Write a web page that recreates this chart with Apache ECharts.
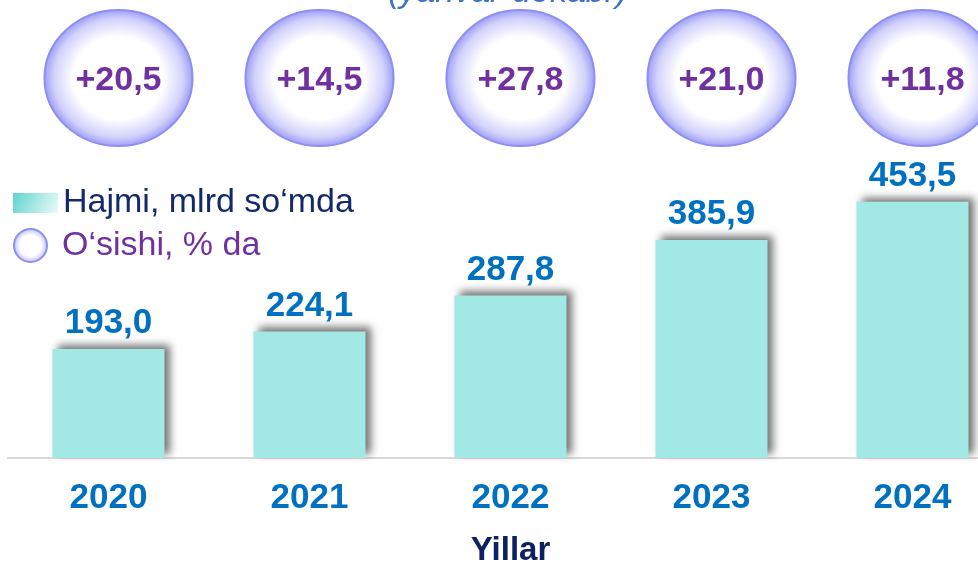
<!DOCTYPE html>
<html>
<head>
<meta charset="utf-8">
<title>Hajmi va o‘sishi</title>
<script src="https://cdn.jsdelivr.net/npm/echarts@6/dist/echarts.min.js"></script>
<style>
  html, body { margin: 0; padding: 0; background: #fff; }
  #chart { width: 978px; height: 567px; }
</style>
</head>
<body>
<div id="chart"></div>
<script>
// yillar va qiymatlar
const years = ['2020', '2021', '2022', '2023', '2024'];
const volume = [193.0, 224.1, 287.8, 385.9, 453.5];   // mlrd so'm
const growth = [20.5, 14.5, 27.8, 21.0, 11.8];        // % da
const growthRow = ['O‘sishi'];

const FONT = '"Liberation Sans", Arial, sans-serif';
const fmt = v => v.toFixed(1).replace('.', ',');

let myChart = echarts.init(document.getElementById('chart'));

let option = {
    animation: false,
    title: {
        text: '(yanvar-dekabr)',
        left: 383,
        top: -29,
        textStyle: {
            fontFamily: FONT,
            fontSize: 34,
            fontStyle: 'italic',
            fontWeight: 'normal',
            color: '#3d72c9'
        }
    },
    legend: [
        {
            data: ['Hajmi, mlrd so‘mda'],
            left: 8,
            top: 181,
            icon: 'rect',
            itemWidth: 45,
            itemHeight: 20,
            itemStyle: {
                color: {
                    type: 'linear', x: 0, y: 0, x2: 1, y2: 1,
                    colorStops: [
                        { offset: 0, color: '#5fd5ce' },
                        { offset: 1, color: '#eafbfa' }
                    ]
                },
                shadowBlur: 0,
                shadowColor: 'transparent'
            },
            textStyle: { fontFamily: FONT, fontSize: 34, color: '#13296b' }
        },
        {
            data: ['O‘sishi, % da'],
            left: 8,
            top: 223,
            icon: 'circle',
            itemWidth: 34,
            itemHeight: 33,
            formatter: ' {name}',
            textStyle: { fontFamily: FONT, fontSize: 34, color: '#7030a0' }
        }
    ],
    grid: [
        { left: 8, right: -35, top: 175.5, bottom: 109, outerBoundsMode: 'none' },
        { left: 18, right: -45, top: 2, height: 152, outerBoundsMode: 'none' }
    ],
    xAxis: [
        {
            type: 'category',
            gridIndex: 0,
            data: years,
            axisLine: { lineStyle: { color: '#d9d9d9', width: 2 } },
            axisTick: { show: false },
            axisLabel: {
                margin: 23,
                fontFamily: FONT,
                fontSize: 35,
                fontWeight: 'bold',
                color: '#0070c0'
            },
            name: 'Yillar',
            nameLocation: 'middle',
            nameGap: 76,
            nameTextStyle: {
                fontFamily: FONT,
                fontSize: 33,
                fontWeight: 'bold',
                color: '#0d2062'
            }
        },
        {
            type: 'category',
            gridIndex: 1,
            data: years,
            show: false
        }
    ],
    yAxis: [
        { type: 'value', gridIndex: 0, min: 0, max: 500, show: false },
        { type: 'category', gridIndex: 1, data: growthRow, show: false }
    ],
    series: [
        {
            name: 'Hajmi, mlrd so‘mda',
            type: 'bar',
            xAxisIndex: 0,
            yAxisIndex: 0,
            data: volume,
            barWidth: 112,
            itemStyle: {
                color: '#a2e8e4',
                shadowColor: 'rgba(0,0,0,0.55)',
                shadowBlur: 8,
                shadowOffsetX: 5,
                shadowOffsetY: -4
            },
            label: {
                show: true,
                position: 'top',
                distance: 8,
                formatter: p => fmt(p.value),
                fontFamily: FONT,
                fontSize: 35,
                fontWeight: 'bold',
                color: '#0070c0'
            }
        },
        {
            name: 'O‘sishi, % da',
            type: 'scatter',
            xAxisIndex: 1,
            yAxisIndex: 1,
            data: growth.map((g, i) => [years[i], growthRow[0], g]),
            symbol: 'circle',
            symbolSize: [148, 136],
            symbolKeepAspect: false,
            itemStyle: {
                color: {
                    type: 'radial', x: 0.5, y: 0.5, r: 0.5,
                    colorStops: [
                        { offset: 0, color: '#ffffff' },
                        { offset: 0.6, color: '#ffffff' },
                        { offset: 0.86, color: '#d2d2fc' },
                        { offset: 1, color: '#9b9bf6' }
                    ]
                },
                borderColor: '#8f8ff2',
                borderWidth: 2,
                opacity: 1
            },
            label: {
                show: true,
                position: 'inside',
                offset: [0, 3],
                formatter: p => '+' + fmt(p.value[2]),
                fontFamily: FONT,
                fontSize: 34,
                fontWeight: 'bold',
                color: '#7030a0'
            }
        }
    ]
};

myChart.setOption(option);
</script>
</body>
</html>
